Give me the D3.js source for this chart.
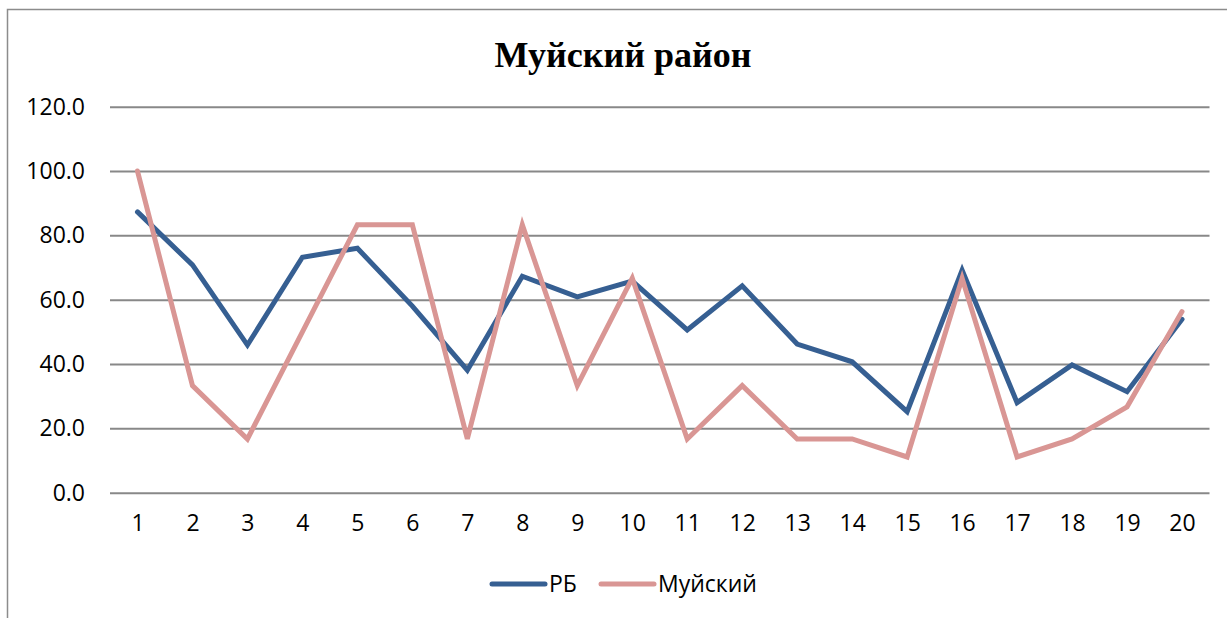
<!DOCTYPE html>
<html><head><meta charset="utf-8">
<script src="https://cdn.jsdelivr.net/npm/d3@7"></script>
<style>body{margin:0;background:#fff}svg{display:block}</style>
</head><body>
<svg id="chart" width="1227" height="618"></svg>
<script>
const categories = ["1","2","3","4","5","6","7","8","9","10","11","12","13","14","15","16","17","18","19","20"];
const seriesRB = [87.3,70.8,45.9,73.2,76.0,58.0,38.1,67.3,60.9,65.8,50.6,64.3,46.2,40.7,25.2,69.2,28.0,39.7,31.4,53.9];
const seriesMuya = [100.0,33.3,16.7,50.0,83.3,83.3,16.7,83.3,33.3,66.7,16.7,33.3,16.7,16.7,11.1,66.7,11.1,16.7,26.7,56.3];
const yTicks = [0,20,40,60,80,100,120];
const seriesNames = ["РБ","Муйский"];
const colors = ["#365F92","#D99694"];

(function(){
const svg = d3.select("#chart");
const font = "'Open Sans', Lato, sans-serif";

svg.append("rect").attr("x",7.5).attr("y",9.5).attr("width",1230).attr("height",620)
  .attr("fill","none").attr("stroke","#8c8c8c").attr("stroke-width",1.5);

const pLeft = 110, pRight = 1209.5, pTop = 106.7, pBottom = 492.7;
const x = d3.scalePoint().domain(categories).range([pLeft, pRight]).padding(0.5);
const y = d3.scaleLinear().domain([0,120]).range([pBottom, pTop]);

svg.append("text").attr("x",623).attr("y",67).attr("text-anchor","middle")
  .attr("font-family","'Liberation Serif','Times New Roman',serif").attr("font-weight","bold")
  .attr("font-size",36).attr("fill","#000").text("Муйский район");

const yAxis = d3.axisLeft(y).tickValues(yTicks).tickSize(-(pRight-pLeft)).tickFormat(d3.format(".1f")).tickPadding(25);
const gy = svg.append("g").attr("transform",`translate(${pLeft},0)`).call(yAxis);
gy.select(".domain").remove();
gy.selectAll(".tick line").attr("stroke","#888").attr("stroke-width",2);
gy.selectAll(".tick text").attr("font-family",font).attr("font-size",23).attr("fill","#000");

const xAxis = d3.axisBottom(x).tickSize(0).tickPadding(22);
const gx = svg.append("g").attr("transform",`translate(0,${pBottom})`).call(xAxis);
gx.select(".domain").remove();
gx.selectAll(".tick text").attr("font-family",font).attr("font-size",23).attr("fill","#000");

const line = d3.line().x((d,i)=>x(categories[i])).y(d=>y(d));
[seriesRB, seriesMuya].forEach((s,k)=>{
  svg.append("path").datum(s).attr("d",line).attr("fill","none")
    .attr("stroke",colors[k]).attr("stroke-width",5).attr("stroke-linejoin","miter").attr("stroke-linecap","round");
});

const legX = [492, 601];
seriesNames.forEach((n,k)=>{
  const g = svg.append("g").attr("transform",`translate(${legX[k]},584)`);
  g.append("line").attr("x1",0).attr("x2",53).attr("y1",0).attr("y2",0)
    .attr("stroke",colors[k]).attr("stroke-width",5).attr("stroke-linecap","round");
  g.append("text").attr("x",57).attr("y",8).attr("font-family",font).attr("font-size",23).attr("fill","#000").text(n);
});
})();
</script>
</body></html>
